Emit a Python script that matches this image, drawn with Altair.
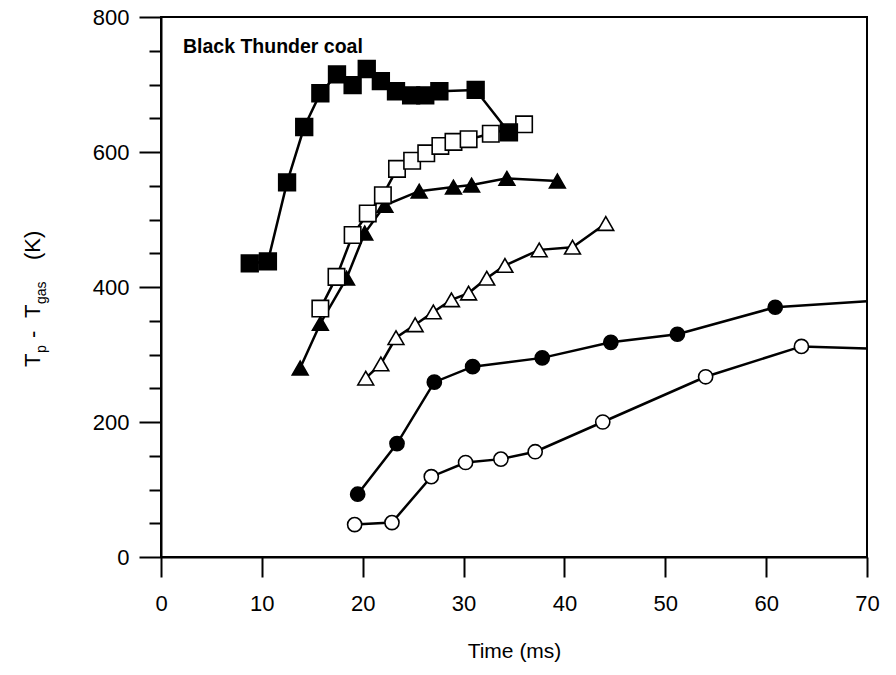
import altair as alt
import pandas as pd

# ---- data (time in ms, T_p - T_gas in K) ----
fsq_t = [8.8, 10.6, 12.5, 14.2, 15.8, 17.45, 19.0, 20.4, 21.8, 23.3, 24.8, 26.2, 27.6, 31.2, 34.5]
fsq_v = [435, 438, 555, 637, 687, 715, 699, 723, 705, 690, 684, 684, 690, 692, 629]

osq_t = [15.8, 17.4, 19.0, 20.5, 22.0, 23.4, 24.9, 26.3, 27.7, 29.0, 30.5, 32.7, 36.0]
osq_v = [368, 415, 477, 509, 536, 575, 587, 598, 609, 615, 619, 627, 641]

ftri_t = [13.8, 15.8, 18.4, 20.2, 22.2, 25.6, 29.0, 30.8, 34.3, 39.3]
ftri_v = [280, 346, 413, 480, 521, 542, 548, 551, 561, 557]

otri_t = [20.3, 21.8, 23.3, 25.2, 27.0, 28.8, 30.5, 32.3, 34.1, 37.5, 40.8, 44.1]
otri_v = [265, 286, 325, 344, 363, 381, 391, 413, 432, 455, 459, 494]

fcir_t = [19.5, 23.4, 27.1, 30.9, 37.8, 44.6, 51.2, 60.9, 70.0]
fcir_v = [93, 168, 259, 282, 295, 318, 330, 370, 379]
fcir_m = [True, True, True, True, True, True, True, True, False]

ocir_t = [19.2, 22.9, 26.8, 30.2, 33.7, 37.1, 43.8, 54.0, 63.5, 70.0]
ocir_v = [48, 51, 119, 140, 145, 156, 200, 267, 312, 309]
ocir_m = [True, True, True, True, True, True, True, True, True, False]

x_ticks = [0, 10, 20, 30, 40, 50, 60, 70]
y_ticks = list(range(0, 801, 50))

FONT = "Liberation Sans"

def frame(t, v, m=None):
    d = pd.DataFrame({"t": t, "v": v})
    d["m"] = m if m is not None else [True] * len(t)
    return d

xenc = alt.X("t:Q", scale=alt.Scale(domain=[0, 70], nice=False),
             axis=alt.Axis(values=x_ticks, title="Time (ms)", grid=False,
                           tickSize=20, tickWidth=2, tickColor="#000000",
                           domainColor="#000000", domainWidth=2,
                           labelFont=FONT, labelFontSize=22, labelColor="#000000",
                           labelPadding=16, labelFlush=False,
                           titleFont=FONT, titleFontSize=21, titleFontWeight="normal",
                           titleColor="#000000", titlePadding=26))
yenc = alt.Y("v:Q", scale=alt.Scale(domain=[0, 800], nice=False),
             axis=alt.Axis(values=y_ticks, title=None, grid=False,
                           tickSize={"condition": {"test": "datum.value % 200 === 0", "value": 22}, "value": 12},
                           tickWidth=2, tickColor="#000000",
                           domainColor="#000000", domainWidth=2,
                           labelExpr="datum.value % 200 === 0 ? datum.label : ''",
                           labelFont=FONT, labelFontSize=22, labelColor="#000000",
                           labelPadding=10))

def series(t, v, shape, filled, size, m=None):
    d = frame(t, v, m)
    base = alt.Chart(d)
    line = base.mark_line(color="#000000", strokeWidth=2.5).encode(x=xenc, y=yenc)
    pts = base.transform_filter("datum.m").mark_point(
        shape=shape, size=size, filled=True,
        fill="#000000" if filled else "#ffffff",
        stroke="#000000", strokeWidth=1.6, opacity=1).encode(x=xenc, y=yenc)
    return [line, pts]

layers = []
layers += series(ocir_t, ocir_v, "circle", False, 200, ocir_m)
layers += series(fcir_t, fcir_v, "circle", True, 200, fcir_m)
layers += series(otri_t, otri_v, "triangle-up", False, 250)
layers += series(ftri_t, ftri_v, "triangle-up", True, 250)
layers += series(osq_t, osq_v, "square", False, 270)
layers += series(fsq_t, fsq_v, "square", True, 280)

# label inside plot
label = alt.Chart(pd.DataFrame({"s": ["Black Thunder coal"]})).mark_text(
    font=FONT, fontSize=19.5, fontWeight="bold", color="#000000",
    align="left", baseline="alphabetic").encode(
    text="s:N", x=alt.value(22), y=alt.value(36))

# y axis title with subscripts, rotated
def rot(txt, px, py, size):
    return alt.Chart(pd.DataFrame({"s": [txt]})).mark_text(
        font=FONT, fontSize=size, color="#000000", angle=270,
        align="left", baseline="alphabetic").encode(
        text="s:N", x=alt.value(px), y=alt.value(py))

ytitle = [
    rot("T", -121, 350, 22),
    rot("p", -115, 336, 14),
    rot("-", -121, 321, 22),
    rot("T", -121, 301, 22),
    rot("gas", -115, 287, 14),
    rot("(K)", -121, 243, 22),
]

chart = alt.layer(*layers, label, *ytitle).properties(
    width=706, height=540,
    autosize=alt.AutoSizeParams(type="none"),
    padding={"left": 161, "top": 17, "right": 29, "bottom": 110},
    background="#ffffff",
).configure_view(stroke="#000000", strokeWidth=2)

chart.save("out.html", embed_options={"renderer": "svg", "actions": False})
